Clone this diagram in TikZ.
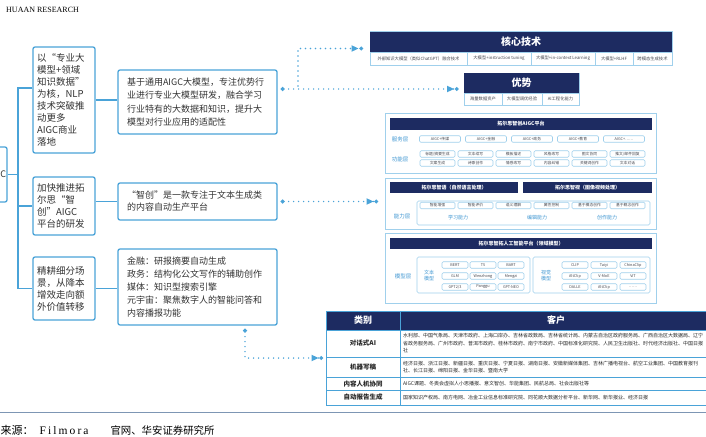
\documentclass[tikz,border=0pt]{standalone}
\usepackage{fontspec}
\setmainfont{Liberation Serif}
\newfontfamily\cjk{Noto Sans CJK SC}
\newfontfamily\srcfont[LetterSpace=18]{Liberation Serif}
\usetikzlibrary{arrows.meta}

\definecolor{navy}{RGB}{29,43,97}
\definecolor{linkblue}{RGB}{74,163,216}
\definecolor{panelblue}{RGB}{160,208,236}
\definecolor{labelblue}{RGB}{62,150,210}
\definecolor{celltext}{RGB}{70,72,80}
\definecolor{rulegray}{RGB}{125,150,180}
\newcommand{\fsz}[2]{\fontsize{#1}{#2}\selectfont}

\begin{document}
\begin{tikzpicture}[x=1pt, y=-1pt,
	treebox/.style={draw=linkblue, line width=1.3pt, rounded corners=2pt, fill=white, inner xsep=4pt, inner ysep=0pt, align=left, text=black!80, font=\cjk\fsz{9.5}{12}},
	infobox/.style={treebox, inner xsep=9pt, font=\cjk\fsz{9}{13}},
	navyhead/.style={fill=navy, text=white, inner sep=0pt, font=\cjk\bfseries\fsz{10}{12}},
	smallhead/.style={navyhead, font=\cjk\bfseries\fsz{5}{6}},
	panel/.style={draw=panelblue, line width=1pt, fill=white, inner sep=0pt},
	group/.style={draw=panelblue, line width=0.6pt, rounded corners=1.5pt, inner sep=0pt},
	subcell/.style={draw=panelblue, line width=0.7pt, fill=white, inner sep=0pt, text=celltext, font=\cjk\fsz{4.3}{5}},
	cell/.style={draw=panelblue, line width=0.6pt, rounded corners=1.2pt, fill=white, inner sep=0pt, minimum height=6.5pt, text=celltext, font=\cjk\fsz{3.8}{4.5}},
	layer/.style={text=labelblue, inner sep=0pt, align=center, font=\cjk\fsz{5.5}{6.5}},
	tabcell/.style={draw=linkblue, line width=1pt, inner sep=0pt, text=black!85},
	tree/.style={linkblue, line width=1.3pt},
	dotlink/.style={linkblue, line width=1.7pt, line cap=round, dash pattern=on 0pt off 5pt, shorten <=3pt, shorten >=5pt, arrows={Circle[length=3.8pt]-Triangle[length=7pt,width=6pt,sep=0.8pt] Circle[length=3.6pt]}}]
	\useasboundingbox (0,0) rectangle (706,436);
	\clip (0,0) rectangle (706,436);

	% ==================== 页眉 ====================
	\node[anchor=west, inner sep=0pt, font=\fsz{8}{9}] (hr) at (6,10) {HUAAN RESEARCH};

	% ==================== 左侧树 ====================
	\node[treebox, minimum width=20pt, minimum height=55pt, inner xsep=1pt, text width=18pt, align=right, font=\cjk\fsz{9}{12}] (root) at (-3,174.5) {C};

	\node[treebox, minimum height=106pt, text width=54pt] (L1) at (64,100) {以“专业大\\模型+领域\\知识数据”\\为核，NLP\\技术突破推\\动更多\\AIGC商业\\落地};
	\node[treebox, minimum height=58pt, text width=54pt] (L2) at (64,206) {加快推进拓\\尔思“智\\创”AIGC\\平台的研发};
	\node[treebox, minimum height=63pt, text width=54pt] (L3) at (64,288.5) {精耕细分场\\景，从降本\\增效走向额\\外价值转移};

	% 树干
	\coordinate (t1) at (18,88);
	\draw[tree] (root.east) -- (root.east -| t1);
	\draw[tree] (t1 -| L1.west) -- (t1) -- (t1 |- L3.west) -- (L3.west);
	\draw[tree] (t1 |- L2.west) -- (L2.west);

	% --- 中间说明框 ---
	\node[infobox, minimum height=64pt, text width=141pt, font=\cjk\fsz{9}{13.5}] (boxA) at (197.5,102) {基于通用AIGC大模型，专注优势行\\业进行专业大模型研发，融合学习\\行业特有的大数据和知识，提升大\\模型对行业应用的适配性};
	\node[infobox, minimum height=37pt, text width=141pt, font=\cjk\fsz{9}{12}] (boxB) at (197.5,201.5) {“智创”是一款专注于文本生成类\\的内容自动生产平台};
	\node[infobox, minimum height=76pt, text width=141pt, font=\cjk\fsz{9}{12.8}] (boxC) at (197.5,287) {金融：研报摘要自动生成\\政务：结构化公文写作的辅助创作\\媒体：知识型搜索引擎\\元宇宙：聚焦数字人的智能问答和\\内容播报功能};

	\draw[tree] (L1.east) -- (L1.east -| boxA.west);
	\draw[tree] (boxB.west -| L2.east) -- (boxB.west);
	\draw[tree] (L3.east) -- (L3.east -| boxC.west);

	% ==================== 右侧：核心技术 / 优势 ====================
	\node[panel, minimum width=302pt, minimum height=33pt] (core) at (521,48.5) {};
	\node[navyhead, minimum width=302pt, minimum height=20pt] (coreh) at (521,42) {核心技术};
	\node[subcell, minimum width=97pt, minimum height=13pt] (ct1) at (418.5,58.5) {外部知识大模型（类似ChatGPT）融合技术};
	\node[subcell, minimum width=64pt, minimum height=13pt] (ct2) at (499,58.5) {大模型+instruction tuning};
	\node[subcell, minimum width=64pt, minimum height=13pt] (ct3) at (563,58.5) {大模型+in-context Learning};
	\node[subcell, minimum width=38pt, minimum height=13pt] (ct4) at (614,58.5) {大模型+RLHF};
	\node[subcell, minimum width=39pt, minimum height=13pt] (ct5) at (652.5,58.5) {跨模态生成技术};

	\node[panel, minimum width=115pt, minimum height=32pt] (adv) at (521.5,89) {};
	\node[navyhead, minimum width=115pt, minimum height=20pt] (advh) at (521.5,83) {优势};
	\node[subcell, minimum width=38pt, minimum height=12pt] (ad1) at (483,99) {海量数据资产};
	\node[subcell, minimum width=40pt, minimum height=12pt] (ad2) at (522,99) {大模型调优经验};
	\node[subcell, minimum width=37pt, minimum height=12pt] (ad3) at (560.5,99) {AI工程化能力};

	% --- 智创AIGC平台 ---
	\node[panel, minimum width=271pt, minimum height=60pt] (p1) at (520.5,143) {};
	\node[smallhead, minimum width=262pt, minimum height=12pt] (p1h) at (521,124) {拓尔思智创AIGC平台};
	\node[layer] (fwc) at (400,139) {服务层};
	\node[layer] (gnc) at (400,159) {功能层};
	\node[cell, minimum width=41pt] (fw1) at (440,139) {AIGC+传媒};
	\node[cell, minimum width=41pt] (fw2) at (486,139) {AIGC+金融};
	\node[cell, minimum width=41pt] (fw3) at (532,139) {AIGC+政务};
	\node[cell, minimum width=41pt] (fw4) at (578,139) {AIGC+教育};
	\node[cell, minimum width=41pt] (fw5) at (624,139) {AIGC+……};
	\node[cell, minimum width=35pt] (fn1) at (437.5,154) {标题/摘要生成};
	\node[cell, minimum width=35pt] (fn2) at (475.5,154) {文本续写};
	\node[cell, minimum width=35pt] (fn3) at (513.5,154) {模板描述};
	\node[cell, minimum width=35pt] (fn4) at (551.5,154) {风格改写};
	\node[cell, minimum width=35pt] (fn5) at (589.5,154) {图文协同};
	\node[cell, minimum width=35pt] (fn6) at (627.5,154) {推文/邮件回复};
	\node[cell, minimum width=35pt] (fn7) at (437.5,163) {文案生成};
	\node[cell, minimum width=35pt] (fn8) at (475.5,163) {诗歌创作};
	\node[cell, minimum width=35pt] (fn9) at (513.5,163) {情感改写};
	\node[cell, minimum width=35pt] (fn10) at (551.5,163) {内容纠错};
	\node[cell, minimum width=35pt] (fn11) at (589.5,163) {关键词创作};
	\node[cell, minimum width=35pt] (fn12) at (627.5,163) {文本对话};

	% --- 智语 / 智视 ---
	\node[panel, minimum width=271pt, minimum height=51pt] (p2) at (520.5,203.5) {};
	\node[smallhead, minimum width=128pt, minimum height=11pt] (p2a) at (454,187.5) {拓尔思智语（自然语言处理）};
	\node[smallhead, minimum width=129pt, minimum height=11pt] (p2b) at (587.5,187.5) {拓尔思智视（图像视频处理）};
	\node[layer] (nlc) at (402,216) {能力层};
	\node[group, minimum width=233pt, minimum height=24pt] (nlbox) at (533.5,213) {};
	\node[cell, minimum width=35pt] (nl1) at (437.5,205.5) {智能增强};
	\node[cell, minimum width=35pt] (nl2) at (475.5,205.5) {智能评价};
	\node[cell, minimum width=35pt] (nl3) at (513.5,205.5) {语义理解};
	\node[cell, minimum width=35pt] (nl4) at (551.5,205.5) {属性控制};
	\node[cell, minimum width=35pt] (nl5) at (589.5,205.5) {基于模态创作};
	\node[cell, minimum width=35pt] (nl6) at (627.5,205.5) {基于概念创作};
	\node[layer, font=\cjk\fsz{5}{6}] (ab1) at (458,218) {学习能力};
	\node[layer, font=\cjk\fsz{5}{6}] (ab2) at (537,218) {编辑能力};
	\node[layer, font=\cjk\fsz{5}{6}] (ab3) at (607,218) {创作能力};

	% --- 人工智能平台（领域模型）---
	\node[panel, minimum width=271pt, minimum height=70pt] (p3) at (520.5,268) {};
	\node[smallhead, minimum width=262pt, minimum height=11pt] (p3h) at (521,243.5) {拓尔思智拓人工智能平台（领域模型）};
	\node[layer] (mxc) at (403,276) {模型层};
	\node[group, minimum width=113pt, minimum height=36pt] (tg) at (473.5,275) {};
	\node[group, minimum width=117pt, minimum height=36pt] (vg) at (591.5,275) {};
	\node[layer, font=\cjk\fsz{5}{5.8}] (tgl) at (429,275.5) {文本\\模型};
	\node[layer, font=\cjk\fsz{5}{5.8}] (vgl) at (546,275.5) {视觉\\模型};
	\node[cell, minimum width=26pt] (tm1) at (455,265) {BERT};
	\node[cell, minimum width=26pt] (tm2) at (483,265) {T5};
	\node[cell, minimum width=26pt] (tm3) at (511,265) {BART};
	\node[cell, minimum width=26pt] (tm4) at (455,276) {GLM};
	\node[cell, minimum width=26pt] (tm5) at (483,276) {Wenzhong};
	\node[cell, minimum width=26pt] (tm6) at (511,276) {Mengzi};
	\node[cell, minimum width=26pt] (tm7) at (455,287) {GPT2/3};
	\node[cell, minimum width=26pt] (tm8) at (483,287) {Panggu};
	\node[cell, minimum width=26pt] (tm9) at (511,287) {GPT-NEO};
	\node[cell, minimum width=26pt] (vm1) at (575,265) {CLIP};
	\node[cell, minimum width=26pt] (vm2) at (604,265) {Taiyi};
	\node[cell, minimum width=26pt] (vm3) at (633,265) {ChinaClip};
	\node[cell, minimum width=26pt] (vm4) at (575,276) {AltClip};
	\node[cell, minimum width=26pt] (vm5) at (604,276) {V-MoE};
	\node[cell, minimum width=26pt] (vm6) at (633,276) {ViT};
	\node[cell, minimum width=26pt] (vm7) at (575,287) {DALLE};
	\node[cell, minimum width=26pt] (vm8) at (604,287) {AltClip};
	\node[cell, minimum width=26pt] (vm9) at (633,287) {……};

	% ==================== 客户表 ====================
	\node[tabcell, fill=navy, text=white, font=\cjk\bfseries\fsz{9}{10}, minimum width=74pt, minimum height=19pt] (hcat) at (363,320.5) {类别};
	\node[tabcell, fill=navy, text=white, font=\cjk\bfseries\fsz{9}{10}, minimum width=312pt, minimum height=19pt] (hcus) at (556,320.5) {客户};
	\node[tabcell, font=\cjk\bfseries\fsz{6.5}{8}, minimum width=74pt, minimum height=27pt] (lb1) at (363,343.5) {对话式AI};
	\node[tabcell, font=\cjk\bfseries\fsz{6.5}{8}, minimum width=74pt, minimum height=20pt] (lb2) at (363,367) {机器写稿};
	\node[tabcell, font=\cjk\bfseries\fsz{6.5}{8}, minimum width=74pt, minimum height=13pt] (lb3) at (363,383.5) {内容人机协同};
	\node[tabcell, font=\cjk\bfseries\fsz{6.5}{8}, minimum width=74pt, minimum height=15pt] (lb4) at (363,397.5) {自动报告生成};
	\node[tabcell, inner xsep=3pt, align=left, text width=306pt, font=\cjk\fsz{5}{7.5}, minimum height=27pt] (kh1) at (556,343.5) {水利部、中国气象局、天津市政府、上海口岸办、吉林省政数局、吉林省统计局、内蒙古自治区政府服务局、广西自治区大数据局、辽宁\\省政务服务局、广州市政府、普洱市政府、桂林市政府、南宁市政府、中国标准化研究院、人民卫生出版社、时代经济出版社、中国日报\\社};
	\node[tabcell, inner xsep=3pt, align=left, text width=306pt, font=\cjk\fsz{5}{7.5}, minimum height=20pt] (kh2) at (556,367) {经济日报、浙江日报、新疆日报、重庆日报、宁夏日报、湖南日报、安徽新媒体集团、吉林广播电视台、航空工业集团、中国教育报刊\\社、长江日报、绵阳日报、金华日报、暨南大学};
	\node[tabcell, inner xsep=3pt, align=left, text width=306pt, font=\cjk\fsz{5}{7.5}, minimum height=13pt] (kh3) at (556,383.5) {AIGC课题、冬奥会虚拟人小思播报、意文智创、华能集团、民航总局、社会出版社等};
	\node[tabcell, inner xsep=3pt, align=left, text width=306pt, font=\cjk\fsz{5}{7.5}, minimum height=15pt] (kh4) at (556,397.5) {国家知识产权局、南方电网、冶金工业信息标准研究院、同花顺大数据分析平台、新华网、新华报业、经济日报};
	\coordinate (tw) at (hcat.west |- 0,358);

	% ==================== 虚线箭头 ====================
	\coordinate (jA) at (298,89);
	\draw[dotlink] (boxA.east |- adv.west) -- (adv.west);
	\draw[dotlink, shorten >=6.5pt, arrows={-Triangle[length=7pt,width=6pt,sep=0.8pt] Circle[length=3.6pt]}] (jA) |- (core.west);
	\draw[dotlink, shorten >=6.5pt] (boxB.east) -- (boxB.east -| p2.west);
	\draw[dotlink, shorten >=2.5pt] ([xshift=47.5pt]boxC.south) |- (tw);

	% ==================== 页脚 ====================
	\draw[rulegray, line width=0.8pt] (0,412) -- (706,412);
	\node[anchor=west, inner sep=0pt] (src) at (0.5,430) {\cjk\fsz{11}{12}来源：\hspace{6pt}{\srcfont\fsz{11.5}{12}Filmora}\hspace{22pt}\fsz{10.4}{12}官网、华安证券研究所};
\end{tikzpicture}
\end{document}
